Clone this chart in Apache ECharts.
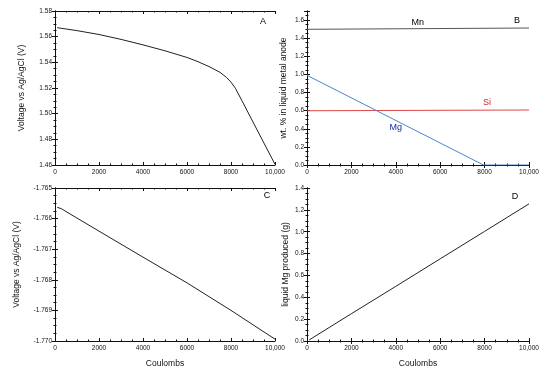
<!DOCTYPE html>
<html>
<head>
<meta charset="utf-8">
<script src="https://cdn.jsdelivr.net/npm/echarts@6/dist/echarts.min.js"></script>
<style>html,body{margin:0;padding:0;background:#fff;}#c{width:550px;height:369px;}</style>
</head>
<body>
<div id="c"></div>
<script>
// ---- data ----
var xTicks = [0, 2000, 4000, 6000, 8000, 10000];
var voltageAnode = [[100,1.5670],[1000,1.5647],[2000,1.5617],[3000,1.5579],[4000,1.5536],[5000,1.5490],[6000,1.5438],[6500,1.5405],[7000,1.5367],[7500,1.5322],[7800,1.5282],[8000,1.5245],[8200,1.5198],[8500,1.5100],[9000,1.4935],[9500,1.4770],[10000,1.4605]];
var mnWt = [[0,1.498],[10000,1.512]];
var siWt = [[0,0.599],[10000,0.607]];
var mgWt = [[0,0.99],[7950,0.0],[10000,0.0]];
var voltageCathode = [[100,-1.76563],[300,-1.76568],[500,-1.76577],[2000,-1.76641],[4000,-1.76726],[6000,-1.76810],[8000,-1.76900],[10000,-1.76994]];
var mgProduced = [[100,0.010],[2000,0.250],[4000,0.500],[6000,0.752],[8000,1.003],[10000,1.255]];

var FONT = 'Liberation Sans, Arial, Helvetica, sans-serif';
var chart = echarts.init(document.getElementById('c'), null, {renderer:'canvas'});

var grids = [
  {left:55, top:11, width:220, height:154},
  {left:307, top:11, width:222, height:154},
  {left:55, top:188, width:220, height:154},
  {left:307, top:188, width:222, height:154}
];
var yCfg = [
  {min:1.46, max:1.58, interval:0.02, dec:2, name:'Voltage vs Ag/AgCl (V)', gap:29},
  {min:0, max:1.7, interval:0.2, dec:1, name:'wt. % in liquid metal anode', gap:19},
  {min:-1.770, max:-1.765, interval:0.001, dec:3, name:'Voltage vs Ag/AgCl (V)', gap:34},
  {min:0, max:1.4, interval:0.2, dec:1, name:'liquid Mg produced (g)', gap:17}
];
var axLine = {show:true, lineStyle:{color:'#111', width:1}};
var tick = {show:true, inside:true, length:3, lineStyle:{color:'#111', width:1}};
var minor = {show:true, splitNumber:4, length:1.5, lineStyle:{color:'#111', width:1}};
var xAxes = [], yAxes = [];
grids.forEach(function(g, i){
  var bottomRow = i >= 2;
  xAxes.push({type:'value', gridIndex:i, min:xTicks[0], max:xTicks[xTicks.length-1], interval:xTicks[1]-xTicks[0],
    position:'bottom', axisLine:axLine, axisTick:tick, minorTick:minor, splitLine:{show:false},
    axisLabel:{fontSize:6.5, fontFamily:FONT, color:'#111', margin:4, formatter:function(v){return v===10000?'10,000':String(v);}},
    name: bottomRow ? 'Coulombs' : '', nameLocation:'middle', nameGap:18,
    nameTextStyle:{fontSize:8.5, fontFamily:FONT, color:'#111'}});
  xAxes.push({type:'value', gridIndex:i, min:xTicks[0], max:xTicks[xTicks.length-1], interval:xTicks[1]-xTicks[0],
    position:'top', axisLine:axLine, axisTick:tick, minorTick:minor, splitLine:{show:false}, axisLabel:{show:false}});
  var c = yCfg[i];
  yAxes.push({type:'value', gridIndex:i, min:c.min, max:c.max, interval:c.interval, position:'left',
    axisLine:axLine, axisTick:tick, minorTick:minor, splitLine:{show:false},
    axisLabel:{fontSize:6.5, fontFamily:FONT, color:'#111', margin:3, showMaxLabel: i!==1,
      formatter:function(v){return v.toFixed(c.dec);}},
    name:c.name, nameLocation:'middle', nameGap:c.gap, nameRotate:90,
    nameTextStyle:{fontSize:8.5, fontFamily:FONT, color:'#111'}});
  yAxes.push({type:'value', gridIndex:i, min:c.min, max:c.max, interval:c.interval, position:'right',
    axisLine:axLine, axisTick:tick, minorTick:minor, splitLine:{show:false}, axisLabel:{show:false}});
});

function line(data, gi, color){
  return {type:'line', data:data, xAxisIndex:gi*2, yAxisIndex:gi*2, showSymbol:false, symbol:'none',
    lineStyle:{color:color, width:1}, silent:true, z:3};
}
function tag(text, pt, gi, color){
  return {type:'scatter', data:[pt], xAxisIndex:gi*2, yAxisIndex:gi*2, symbolSize:0, silent:true, z:5,
    itemStyle:{opacity:1},
    label:{show:true, position:'inside', formatter:text, fontSize:9, fontFamily:FONT, color:color, opacity:1}};
}

chart.setOption({
  animation:false,
  backgroundColor:'#fff',
  grid:grids,
  xAxis:xAxes,
  yAxis:yAxes,
  series:[
    line(voltageAnode, 0, '#222'),
    line(mnWt, 1, '#555'),
    line(siWt, 1, '#e04848'),
    line(mgWt, 1, '#4a86cc'),
    line(voltageCathode, 2, '#222'),
    line(mgProduced, 3, '#222'),
    tag('A', [9455, 1.572], 0, '#000'),
    tag('B', [9460, 1.60], 1, '#000'),
    tag('Mn', [4993, 1.578], 1, '#000'),
    tag('Si', [8106, 0.695], 1, '#d82020'),
    tag('Mg', [4000, 0.419], 1, '#1a2aa8'),
    tag('C', [9636, -1.76525], 2, '#000'),
    tag('D', [9364, 1.32], 3, '#000')
  ]
});
</script>
</body>
</html>
